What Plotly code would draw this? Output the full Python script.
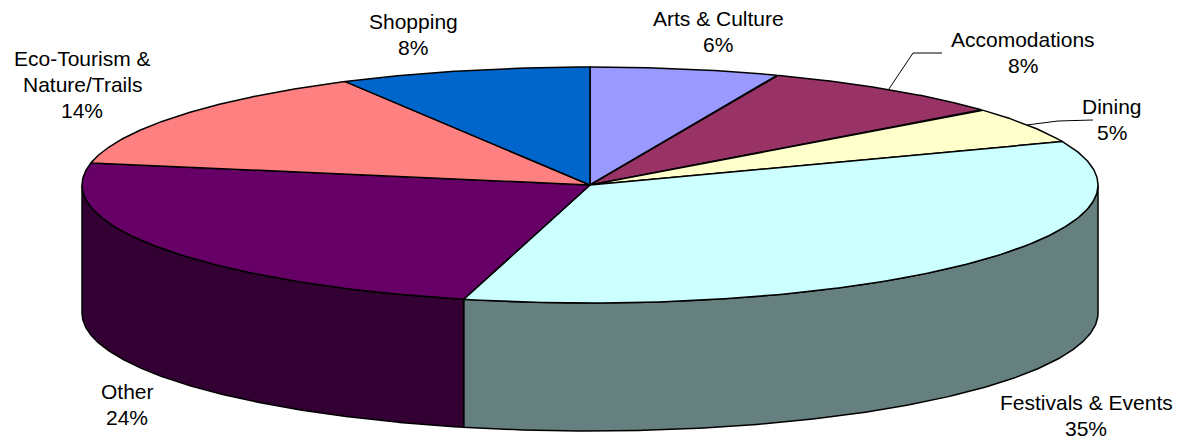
import numpy as np
import plotly.graph_objects as go

# ---- data ----
categories = ["Arts & Culture", "Accomodations", "Dining", "Festivals & Events",
              "Other", "Eco-Tourism &|Nature/Trails", "Shopping"]
values = [6, 8, 5, 35, 24, 14, 8]
colors = ["#9999FF", "#993366", "#FFFFCC", "#CCFFFF", "#660066", "#FF8080", "#0066CC"]

# ---- geometry (pixel space) ----
W, H = 1187, 441
CX, CY, A, B, DEPTH = 590, 185, 508, 118, 128
LINE_H = 26

def darker(hexc):
    r, g, b = int(hexc[1:3], 16), int(hexc[3:5], 16), int(hexc[5:7], 16)
    return "#%02x%02x%02x" % (r // 2, g // 2, b // 2)

def pt(theta_deg, dy=0.0):
    t = np.radians(theta_deg)
    return CX + A * np.sin(t), CY - B * np.cos(t) + dy

total = float(sum(values))
bounds = np.concatenate([[0], np.cumsum(values)]) / total * 360.0

fig = go.Figure()

# side faces (front half: 90..270 degrees)
for i, (v, c) in enumerate(zip(values, colors)):
    t1, t2 = max(bounds[i], 90.0), min(bounds[i + 1], 270.0)
    if t2 <= t1:
        continue
    ts = np.linspace(t1, t2, 200)
    xt, yt = pt(ts)
    xb, yb = pt(ts[::-1], DEPTH)
    xs = np.concatenate([xt, xb, xt[:1]])
    ys = np.concatenate([yt, yb, yt[:1]])
    fig.add_trace(go.Scatter(x=xs, y=ys, mode="lines", fill="toself",
                             fillcolor=darker(c), line=dict(color="black", width=1.5),
                             hoverinfo="skip", showlegend=False))

# top faces
for i, (v, c) in enumerate(zip(values, colors)):
    ts = np.linspace(bounds[i], bounds[i + 1], 200)
    xe, ye = pt(ts)
    xs = np.concatenate([[CX], xe, [CX]])
    ys = np.concatenate([[CY], ye, [CY]])
    fig.add_trace(go.Scatter(x=xs, y=ys, mode="lines", fill="toself",
                             fillcolor=c, line=dict(color="black", width=1.5),
                             hoverinfo="skip", showlegend=False))

# label positions (layout): centre x, centre y of first line
label_pos = {
    "Arts & Culture": (718, 18),
    "Accomodations": (1023, 39),
    "Dining": (1112, 106),
    "Festivals & Events": (1086, 402),
    "Other": (127, 391),
    "Eco-Tourism &|Nature/Trails": (82, 58),
    "Shopping": (413, 21),
}
# leader line elbows for small slices
leaders = {
    "Accomodations": [(913, 53), (942, 53)],
    "Dining": [(1058, 121), (1093, 120)],
}

for i, (cat, v) in enumerate(zip(categories, values)):
    x, y = label_pos[cat]
    lines = cat.split("|") + [f"{v}%"]
    for k, ln in enumerate(lines):
        fig.add_annotation(x=x, y=y + k * LINE_H, text=ln, showarrow=False,
                           xref="x", yref="y", xanchor="center", yanchor="middle",
                           font=dict(family="Liberation Sans, Arial", size=21, color="black"))
    if cat in leaders:
        mid = (bounds[i] + bounds[i + 1]) / 2
        px, py = pt(mid)
        lx = [px] + [p[0] for p in leaders[cat]]
        ly = [py] + [p[1] for p in leaders[cat]]
        fig.add_trace(go.Scatter(x=lx, y=ly, mode="lines",
                                 line=dict(color="black", width=1),
                                 hoverinfo="skip", showlegend=False))

fig.update_layout(
    width=W, height=H, margin=dict(l=0, r=0, t=0, b=0),
    paper_bgcolor="white", plot_bgcolor="white",
    xaxis=dict(range=[0, W], visible=False, fixedrange=True),
    yaxis=dict(range=[H, 0], visible=False, fixedrange=True),
)

fig.write_html("out.html")
